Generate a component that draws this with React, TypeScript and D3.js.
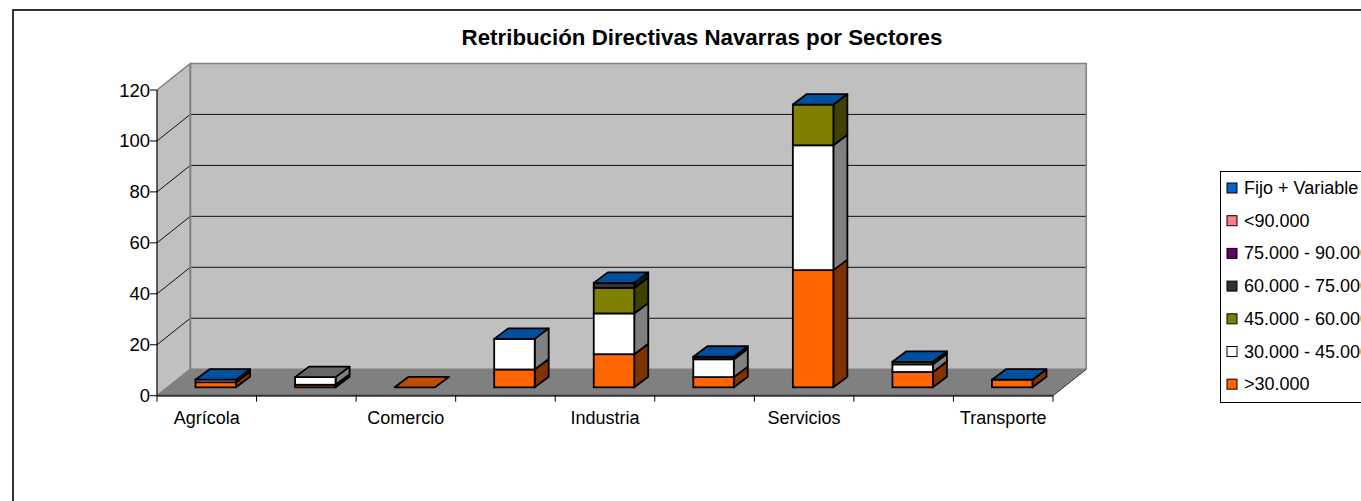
import React from "react";
import * as d3 from "d3";

const title = "Retribución Directivas Navarras por Sectores";
const categories = ["Agrícola", "", "Comercio", "", "Industria", "", "Servicios", "", "Transporte"];
const seriesNames = [">30.000", "30.000 - 45.000", "45.000 - 60.000", "60.000 - 75.000", "75.000 - 90.000", "<90.000", "Fijo + Variable"];
const seriesColors = ["#ff6600", "#ffffff", "#808000", "#333333", "#660066", "#ff8080", "#0066cc"];
const under30 = [2, 1, 0, 7, 13, 4, 46, 6, 3];
const from30 = [1, 3, 0, 12, 16, 7, 49, 3, 0];
const from45 = [0, 0, 0, 0, 10, 0, 16, 1, 0];
const from60 = [0, 0, 0, 0, 2, 1, 0, 0, 0];
const from75 = [0, 0, 0, 0, 0, 0, 0, 0, 0];
const over90 = [0, 0, 0, 0, 0, 0, 0, 0, 0];
const fixedVar = [0, null, null, 0, 0, 0, 0, 0, 0];
const seriesValues: (number | null)[][] = [under30, from30, from45, from60, from75, over90, fixedVar];
const topOverride: Record<number, string> = { 1: "#666666", 2: "#bf4d00" };
const yTicks = [0, 20, 40, 60, 80, 100, 120];

const FONT = "'Liberation Sans', Arial, sans-serif";

export default function App() {
  const y = d3.scaleLinear().domain([0, 120]).range([395.7, 90]);
  const x = d3.scaleBand<number>().domain(d3.range(categories.length)).range([157, 1053]);
  const wallDx = 33.3;
  const wallDy = 26.5;
  const barW = 40.5;
  const barDx = 14;
  const barDy = 10.5;
  const baseDx = 9;
  const baseDy = 8.4;
  const edge = 1.8;
  const shade = (c: string, k: number) => {
    const r = d3.rgb(c);
    return d3.rgb(r.r * k, r.g * k, r.b * k).formatHex();
  };

  const pts = (a: [number, number][]) => a.map((p) => p.join(",")).join(" ");
  const x0 = 157, x1 = 1053, yB = y(0), yT = y(120);

  const bars: React.ReactNode[] = [];
  categories.forEach((_, i) => {
    const left = (x(i) as number) + (x.bandwidth() - barW) / 2 + baseDx;
    const right = left + barW;
    let acc = 0;
    let topColor = seriesColors[0];
    const segs: React.ReactNode[] = [];
    seriesValues.forEach((vals, s) => {
      const v = vals[i];
      if (v === null) return;
      topColor = seriesColors[s];
      if (v === 0) return;
      const yb = y(acc) - baseDy;
      acc += v;
      const yt = y(acc) - baseDy;
      segs.push(
        <g key={s}>
          <polygon points={pts([[right, yb], [right + barDx, yb - barDy], [right + barDx, yt - barDy], [right, yt]])} fill={shade(seriesColors[s], 0.5)} stroke="#000" strokeWidth={edge} strokeLinejoin="round" />
          <rect x={left} y={yt} width={barW} height={yb - yt} fill={seriesColors[s]} stroke="#000" strokeWidth={edge} />
        </g>
      );
    });
    const yt = y(acc) - baseDy;
    const topFill = topOverride[i] ?? shade(topColor, 0.78);
    bars.push(
      <g key={i}>
        {segs}
        <polygon points={pts([[left, yt], [left + barDx, yt - barDy], [right + barDx, yt - barDy], [right, yt]])} fill={topFill} stroke="#000" strokeWidth={edge} strokeLinejoin="round" />
      </g>
    );
  });

  const legendOrder = d3.range(seriesNames.length).reverse();

  return (
    <svg width={1361} height={501} viewBox="0 0 1361 501" style={{ position: "fixed", left: 0, top: 0, background: "#fff" }} fontFamily={FONT}>
      <rect x={13} y={10} width={1500} height={600} fill="#fff" stroke="#000" strokeWidth={1.6} />
      <text x={702} y={45} textAnchor="middle" fontSize={22.3} fontWeight="bold" fill="#000">{title}</text>

      {/* side wall, back wall, floor */}
      <polygon points={pts([[x0, yB], [x0 + wallDx, yB - wallDy], [x0 + wallDx, yT - wallDy], [x0, yT]])} fill="#c0c0c0" />
      <rect x={x0 + wallDx} y={yT - wallDy} width={x1 - x0} height={yB - yT} fill="#c0c0c0" />
      <polygon points={pts([[x0, yB], [x1, yB], [x1 + wallDx, yB - wallDy], [x0 + wallDx, yB - wallDy]])} fill="#808080" />

      {yTicks.slice(1, -1).map((t) => (
        <polyline key={t} points={pts([[x0, y(t)], [x0 + wallDx, y(t) - wallDy], [x1 + wallDx, y(t) - wallDy]])} fill="none" stroke="#111" strokeWidth={1} />
      ))}
      <polyline points={pts([[x0, yT], [x0 + wallDx, yT - wallDy], [x1 + wallDx, yT - wallDy], [x1 + wallDx, yB - wallDy]])} fill="none" stroke="#808080" strokeWidth={1.5} />
      <polyline points={pts([[x0, yB], [x0 + wallDx, yB - wallDy], [x1 + wallDx, yB - wallDy]])} fill="none" stroke="#808080" strokeWidth={1.5} />
      <line x1={x1} x2={x1 + wallDx} y1={yB} y2={yB - wallDy} stroke="#333" strokeWidth={1} />
      <line x1={x0 + wallDx} x2={x0 + wallDx} y1={yT - wallDy} y2={yB - wallDy} stroke="#808080" strokeWidth={2} />

      {bars}

      {/* axes */}
      <line x1={x0} x2={x0} y1={yT} y2={yB} stroke="#000" strokeWidth={1.2} />
      <line x1={x0} x2={x1} y1={yB} y2={yB} stroke="#333" strokeWidth={2} />
      {yTicks.map((t) => (
        <g key={t}>
          <line x1={x0 - 7} x2={x0} y1={y(t)} y2={y(t)} stroke="#000" strokeWidth={1} />
          <text x={x0 - 7} y={y(t) + 6.5} textAnchor="end" fontSize={18.5} fill="#000">{t}</text>
        </g>
      ))}
      {d3.range(categories.length + 1).map((i) => {
        const tx = x0 + x.step() * i;
        return <line key={i} x1={tx} x2={tx} y1={yB} y2={yB + 6} stroke="#000" strokeWidth={1} />;
      })}
      {categories.map((c, i) => (
        <text key={i} x={(x(i) as number) + x.bandwidth() / 2} y={424} textAnchor="middle" fontSize={18} fill="#000">{c}</text>
      ))}

      {/* legend */}
      <rect x={1220.5} y={171.5} width={200} height={231} fill="#fff" stroke="#000" strokeWidth={1} />
      {legendOrder.map((s, k) => {
        const cy = 188 + k * 32.7;
        return (
          <g key={s}>
            <rect x={1227} y={cy - 5} width={10} height={10} fill={seriesColors[s]} stroke="#000" strokeWidth={1} />
            <text x={1244} y={cy + 6} fontSize={18} fill="#000">{seriesNames[s]}</text>
          </g>
        );
      })}
    </svg>
  );
}
